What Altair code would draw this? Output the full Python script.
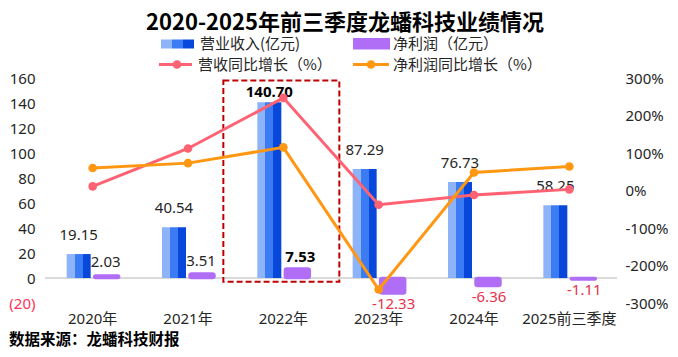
import altair as alt
import pandas as pd

# ---------------- data ----------------
years = ["2020年", "2021年", "2022年", "2023年", "2024年", "2025前三季度"]
revenue = [19.15, 40.54, 140.70, 87.29, 76.73, 58.25]          # 营业收入(亿元)
profit = [2.03, 3.51, 7.53, -12.33, -6.36, -1.11]              # 净利润(亿元)
rev_growth = [11, 112, 247, -38, -12, 3]                        # 营收同比增长(%)
profit_growth = [60, 73, 115, -264, 48, 64]                     # 净利润同比增长(%)
highlight_year = "2022年"
left_ticks = [-20, 0, 20, 40, 60, 80, 100, 120, 140, 160]
right_ticks = [-300, -200, -100, 0, 100, 200, 300]
title_text = "2020-2025年前三季度龙蟠科技业绩情况"
legend_labels = ["营业收入(亿元)", "净利润（亿元）", "营收同比增长（%）", "净利润同比增长（%）"]
source_text = "数据来源：龙蟠科技财报"

df = pd.DataFrame({
    "year": years,
    "revenue": revenue,
    "profit": profit,
    "rev_growth": rev_growth,
    "profit_growth": profit_growth,
})
df["rev_lbl"] = [f"{v:.2f}" for v in revenue]
df["pf_lbl"] = [f"{v:.2f}" for v in profit]

# ---------------- style ----------------
FONT = "Noto Sans, Noto Sans CJK SC"
CJK = "Noto Sans CJK SC"
PURPLE = "#B06EF6"
RED = "#FF6272"
ORANGE = "#FF9712"
NEG_RED = "#E8324A"
TXT = "#262626"


def grad():
    return alt.LinearGradient(
        gradient="linear", x1=0, x2=1, y1=0, y2=0,
        stops=[
            alt.GradientStop(offset=0, color="#8DB3F9"),
            alt.GradientStop(offset=0.33, color="#8DB3F9"),
            alt.GradientStop(offset=0.33, color="#3B7BF3"),
            alt.GradientStop(offset=0.67, color="#3B7BF3"),
            alt.GradientStop(offset=0.67, color="#0747D9"),
            alt.GradientStop(offset=1, color="#0747D9"),
        ],
    )


x_enc = alt.X(
    "year:N", sort=years, title=None,
    scale=alt.Scale(paddingInner=0, paddingOuter=0),
    axis=alt.Axis(labelAngle=0, domain=False, ticks=False, labelPadding=8,
                  labelFontSize=15, labelFont=FONT, labelColor=TXT, title=None),
)

left_axis = alt.Axis(
    title=None, values=left_ticks, grid=False, domain=False, ticks=False,
    labelPadding=10, labelFontSize=15, labelFont=FONT,
    labelExpr="datum.value < 0 ? '(' + abs(datum.value) + ')' : datum.value",
    labelColor=alt.condition("datum.value < 0", alt.value("#FF3355"), alt.value(TXT)),
)
right_axis = alt.Axis(
    title=None, orient="right", values=right_ticks, grid=False, domain=False,
    ticks=False, labelPadding=8, labelFontSize=15, labelFont=FONT,
    labelColor=TXT, labelExpr="datum.value + '%'",
)
left_scale = alt.Scale(domain=[-20, 160], nice=False)
right_scale = alt.Scale(domain=[-300, 300], nice=False)


def yL(field):
    return alt.Y(field, type="quantitative", scale=left_scale, axis=left_axis, title=None)


def yR(field):
    return alt.Y(field, type="quantitative", scale=right_scale, axis=right_axis, title=None)


base = alt.Chart(df)

baseline = base.mark_rule(color="#D9D9D9", strokeWidth=1.2).encode(
    y=alt.Y(datum=0, type="quantitative", scale=left_scale, axis=left_axis)
)

rev_bar = base.mark_bar(width=24, xOffset=-14, color=grad()).encode(x=x_enc, y=yL("revenue"))
profit_bar = base.mark_bar(width=25, xOffset=14, cornerRadius=2, color=PURPLE,
                           stroke=PURPLE, strokeWidth=2.5).encode(
    x=x_enc, y=yL("profit"))

hl_rect = base.transform_filter(alt.datum.year == highlight_year).mark_rect(
    filled=False, color="#C00000", strokeDash=[6, 3], strokeWidth=2, width=116, xOffset=-2
).encode(
    x=x_enc,
    y=alt.Y(datum=158, type="quantitative", scale=left_scale, axis=left_axis),
    y2=alt.Y2(datum=-3),
)

rev_lbl = base.transform_filter(alt.datum.year != highlight_year).mark_text(
    dx=-14, dy=-19, fontSize=15, font=FONT, color=TXT
).encode(x=x_enc, y=yL("revenue"), text="rev_lbl:N")
rev_lbl_hl = base.transform_filter(alt.datum.year == highlight_year).mark_text(
    dx=-14, dy=-10, fontSize=15, font=FONT, fontWeight="bold", color="#000000"
).encode(x=x_enc, y=yL("revenue"), text="rev_lbl:N")

pf_lbl_pos = base.transform_filter(
    (alt.datum.profit >= 0) & (alt.datum.year != highlight_year)
).mark_text(dx=13, dy=-13, fontSize=15, font=FONT, color=TXT).encode(
    x=x_enc, y=yL("profit"), text="pf_lbl:N")
pf_lbl_hl = base.transform_filter(alt.datum.year == highlight_year).mark_text(
    dx=17, dy=-12, fontSize=15, font=FONT, fontWeight="bold", color="#000000"
).encode(x=x_enc, y=yL("profit"), text="pf_lbl:N")
pf_lbl_neg = base.transform_filter(alt.datum.profit < 0).mark_text(
    dx=15, dy=11, fontSize=15, font=FONT, color=NEG_RED
).encode(x=x_enc, y=yL("profit"), text="pf_lbl:N")

left = alt.layer(baseline, rev_bar, profit_bar, hl_rect, rev_lbl, rev_lbl_hl,
                 pf_lbl_pos, pf_lbl_hl, pf_lbl_neg)

red_line = base.mark_line(
    color=RED, strokeWidth=3,
    point=alt.OverlayMarkDef(filled=True, size=75, color=RED, opacity=1),
).encode(x=x_enc, y=yR("rev_growth"))
orange_line = base.mark_line(
    color=ORANGE, strokeWidth=3,
    point=alt.OverlayMarkDef(filled=True, size=75, color=ORANGE, opacity=1),
).encode(x=x_enc, y=yR("profit_growth"))

# ---------------- title / legend / source (decorations) ----------------
one = alt.Chart(pd.DataFrame({"t": [title_text]}))
title = one.mark_text(font=CJK, fontSize=22, fontWeight="bold", color="#000000",
                      align="center", baseline="middle").encode(
    x=alt.value(300), y=alt.value(-55.5), text="t:N")

src = alt.Chart(pd.DataFrame({"t": [source_text]})).mark_text(
    font=CJK, fontSize=15.5, fontWeight="bold", color="#000000", align="left",
    baseline="middle").encode(x=alt.value(-36), y=alt.value(262), text="t:N")

lg = [alt.Chart(pd.DataFrame({"t": [lab]})) for lab in legend_labels]
row1, row2 = -34, -13.5
sw_rev = lg[0].mark_rect(color=grad()).encode(
    x=alt.value(116), x2=alt.value(149), y=alt.value(row1 - 4.5), y2=alt.value(row1 + 4.5))
sw_pf = lg[1].mark_rect(color=PURPLE).encode(
    x=alt.value(308), x2=alt.value(345), y=alt.value(row1 - 6), y2=alt.value(row1 + 5.5))
ln_red = lg[2].mark_rule(color=RED, strokeWidth=3).encode(
    x=alt.value(114), x2=alt.value(147), y=alt.value(row2))
pt_red = lg[2].mark_circle(color=RED, size=75, opacity=1).encode(
    x=alt.value(132), y=alt.value(row2))
ln_or = lg[3].mark_rule(color=ORANGE, strokeWidth=3).encode(
    x=alt.value(308), x2=alt.value(344), y=alt.value(row2))
pt_or = lg[3].mark_circle(color=ORANGE, size=75, opacity=1).encode(
    x=alt.value(326), y=alt.value(row2))


def lg_text(c, xpos, ypos):
    return c.mark_text(font=CJK, fontSize=15, color=TXT, align="left",
                       baseline="middle").encode(
        x=alt.value(xpos), y=alt.value(ypos), text="t:N")


legend_layers = [sw_rev, sw_pf, ln_red, pt_red, ln_or, pt_or,
                 lg_text(lg[0], 155, row1), lg_text(lg[1], 348, row1),
                 lg_text(lg[2], 153, row2), lg_text(lg[3], 348, row2)]

right = alt.layer(red_line, orange_line, title, src, *legend_layers)

chart = alt.layer(left, right).resolve_scale(y="independent").properties(
    width=572, height=225,
    padding={"left": 37, "top": 70, "right": 53, "bottom": 46},
    autosize=alt.AutoSizeParams(type="none"),
    background="#ffffff",
).configure_view(stroke=None)

chart.save("out.html", embed_options={"renderer": "svg", "actions": False})
